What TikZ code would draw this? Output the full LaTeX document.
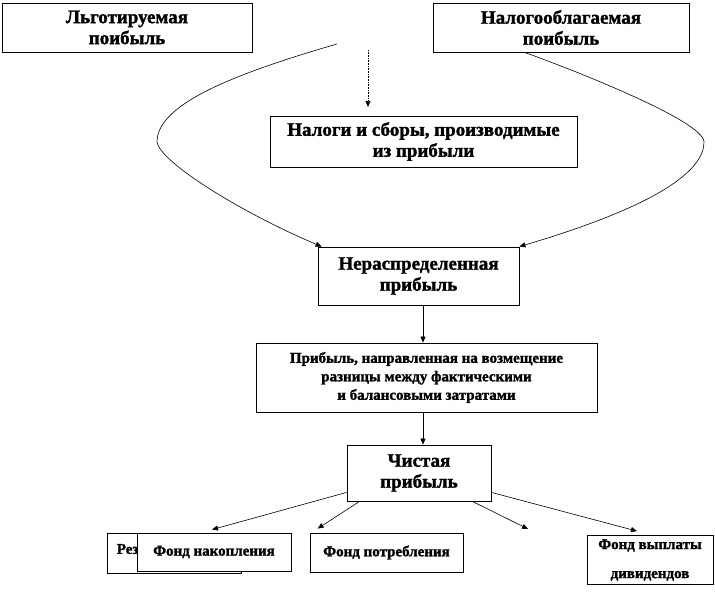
\documentclass[tikz,border=0pt]{standalone}
\usepackage{fontspec}
\setmainfont{Liberation Serif}[BoldFont={Liberation Serif Bold},BoldFeatures={FakeBold=1.5}]
\usetikzlibrary{arrows.meta,calc}
\begin{document}
\begin{tikzpicture}[x=1pt,y=-1pt,
  box/.style={draw, line width=0.8pt, fill=white, rectangle, inner sep=0pt, align=center},
  big/.style={font=\fontsize{19}{21}\selectfont\bfseries},
  mid/.style={font=\fontsize{15}{18.5}\selectfont\bfseries},
  small/.style={font=\fontsize{15}{16}\selectfont\bfseries},
  arr/.style={line width=0.6pt, -{Triangle[length=6pt,width=5pt]}},
]
\useasboundingbox[fill=white] (0,0) rectangle (715,594);
% top boxes
\node[box, big, minimum width=250, minimum height=49] (lg) at (127,27.5) {Льготируемая\\поибыль};
\node[box, big, minimum width=256, minimum height=49] (nb) at (561,27.5) {Налогооблагаемая\\поибыль};
\node[box, big, minimum width=307, minimum height=51] (nal) at (423.5,141.5) {Налоги и сборы, производимые\\из прибыли};
\node[box, big, minimum width=201, minimum height=58] (ner) at (418.5,276) {Нераспределенная\\прибыль};
\node[box, mid, minimum width=341, minimum height=69] (prib) at (426.5,377.5) {Прибыль, направленная на возмещение\\разницы между фактическими\\и балансовыми затратами};
\node[box, big, minimum width=144, minimum height=56] (ch) at (419,473) {Чистая\\прибыль};
% bottom boxes
\node[box, minimum width=134, minimum height=40] (rez) at (174,553) {};
\node[small, anchor=west, inner sep=0pt] (reztxt) at ($(rez.west)+(10,-4)$) {Рез};
\node[box, small, minimum width=154, minimum height=38] (nak) at (214,552) {Фонд накопления};
\node[box, small, minimum width=153, minimum height=39] (potr) at (386.5,552.5) {Фонд потребления};
\node[box, minimum width=126, minimum height=49, font=\fontsize{15}{29}\selectfont\bfseries] (vyp) at (650,560) {Фонд выплаты\\дивидендов};
% coordinates
\coordinate (dtop) at (368,50);
\coordinate (dend) at (368,107);
\coordinate (ltop) at (337,44);
\coordinate (free) at (528,529);
% connectors
\draw[arr, densely dotted] (dtop) -- (dend);
\draw[arr] (ltop) .. controls (230,75) and (157,105) .. (157,142)
  .. controls (160,162) and (240,212) .. ($(ner.north west)+(4,0)$);
\draw[arr] ($(nb.south west)+(92,0)$) .. controls (560,65) and (704,120) .. (704,142)
  .. controls (704,170) and (660,205) .. (ner.north east);
\draw[arr] ([xshift=4.5pt]ner.south) -- ([xshift=4.5pt]ner.south |- prib.north);
\draw[arr] ([xshift=-3.5pt]prib.south) -- ([xshift=-3.5pt]prib.south |- ch.north);
\draw[arr] ($(ch.south west)+(0,-9)$) -- ($(nak.north)+(-2,-3)$);
\draw[arr] ($(ch.south west)+(13,0)$) -- ($(potr.north west)+(8,-4)$);
\draw[arr] ($(ch.south east)+(-19,0)$) -- (free);
\draw[arr] ($(ch.south east)+(0,-9)$) -- ($(vyp.north)+(-13,-4)$);
\end{tikzpicture}
\end{document}
